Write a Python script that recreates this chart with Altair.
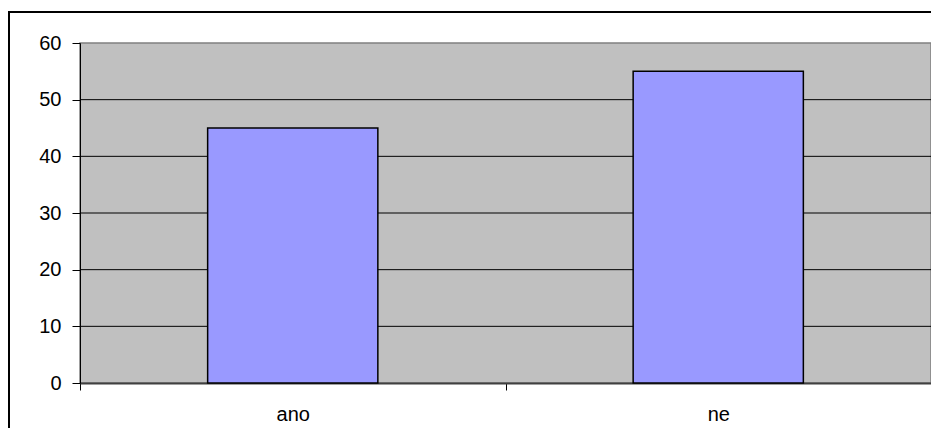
import altair as alt
import pandas as pd

categories = ["ano", "ne"]
values = [45, 55]
grid_values = [10, 20, 30, 40, 50]
y_ticks = [0, 10, 20, 30, 40, 50, 60]

df = pd.DataFrame({"cat": categories, "val": values})
gdf = pd.DataFrame({"g": grid_values})
one = pd.DataFrame({"a": [0]})

FONT = "Liberation Sans"
yscale = alt.Scale(domain=[0, 60], nice=False, zero=True)
xscale = alt.Scale(paddingInner=0, paddingOuter=0)

yaxis = alt.Axis(values=y_ticks, grid=False, domainColor="black", domainWidth=1,
                 tickColor="black", tickSize=8, labelFontSize=20, labelFont=FONT,
                 labelColor="black", labelPadding=11, title=None)
xaxis = alt.Axis(tickBand="extent", labelAngle=0, title=None, domainColor="#404040",
                 domainWidth=2, tickColor="black", tickSize=7, labelFontSize=20,
                 labelPadding=14, labelColor="black", labelFont=FONT)

grid = alt.Chart(gdf).mark_rule(color="black", strokeWidth=1).encode(
    y=alt.Y("g:Q", scale=yscale, axis=yaxis)
)

bars = alt.Chart(df).mark_bar(color="#9999FF", stroke="black", strokeWidth=1.5,
                              width=alt.RelativeBandSize(0.4)).encode(
    x=alt.X("cat:N", scale=xscale, axis=xaxis, sort=categories),
    y=alt.Y("val:Q", scale=yscale, axis=yaxis),
)

border_left = alt.Chart(one).mark_rule(color="black", strokeWidth=2).encode(
    x=alt.value(-71), y=alt.value(-31), y2=alt.value(420)
)
border_top = alt.Chart(one).mark_rule(color="black", strokeWidth=2).encode(
    x=alt.value(-72), x2=alt.value(880), y=alt.value(-31)
)

chart = alt.layer(grid, bars, border_left, border_top).properties(
    width=851, height=340,
    autosize=alt.AutoSizeParams(type="none"),
    padding={"left": 72, "top": 35, "right": 0, "bottom": 45},
    background="white",
).configure_view(fill="#C0C0C0", stroke="#808080", strokeWidth=1.5)

chart.save("out.html", embed_options={"renderer": "svg", "actions": False})
